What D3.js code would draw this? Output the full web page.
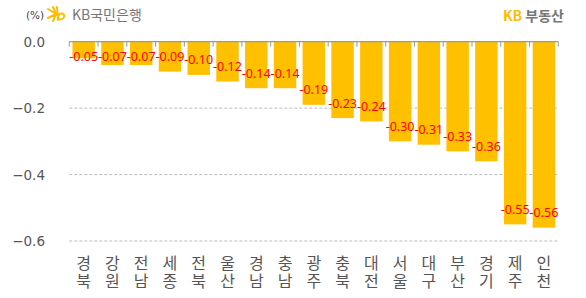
<!DOCTYPE html>
<html>
<head>
<meta charset="utf-8">
<script src="https://cdn.jsdelivr.net/npm/d3@7"></script>
<style>
  body { margin: 0; background: #fff; }
  svg { display: block; }
</style>
</head>
<body>
<svg id="chart" width="586" height="298"></svg>
<script>
// regions (top/bottom halves of the vertical label) and weekly change in %
var regions = ["경북","강원","전남","세종","전북","울산","경남","충남","광주","충북","대전","서울","대구","부산","경기","제주","인천"];
var values = [-0.05,-0.07,-0.07,-0.09,-0.10,-0.12,-0.14,-0.14,-0.19,-0.23,-0.24,-0.30,-0.31,-0.33,-0.36,-0.55,-0.56];
var yTicks = [0, -0.2, -0.4, -0.6];

var svg = d3.select("#chart");
var plotL = 69.3, plotR = 558.3, plotT = 41.7, plotB = 241;

var x = d3.scaleBand().domain(regions).range([plotL, plotR]).paddingInner(0.22).paddingOuter(0.11);
var y = d3.scaleLinear().domain([0, -0.6]).range([plotT, plotB]);

// dashed grid
svg.append("g").selectAll("line").data(yTicks.slice(1)).enter().append("line")
	.attr("x1", plotL).attr("x2", plotR)
	.attr("y1", function(d){ return y(d); }).attr("y2", function(d){ return y(d); })
	.attr("stroke", "#bbb").attr("stroke-dasharray", "3,2").attr("stroke-width", 1);

// y labels
svg.append("g").selectAll("text").data(yTicks).enter().append("text")
	.attr("x", 45).attr("y", function(d){ return y(d); })
	.attr("text-anchor", "end").attr("dominant-baseline", "central")
	.attr("font-family", "DejaVu Sans").attr("font-size", 13.5).attr("fill", "#555")
	.text(function(d){ return d == 0 ? "0.0" : "\u2212" + Math.abs(d).toFixed(1); });

// bars
svg.append("g").selectAll("rect").data(values).enter().append("rect")
	.attr("x", function(d,i){ return x(regions[i]); })
	.attr("width", x.bandwidth())
	.attr("y", y(0))
	.attr("height", function(d){ return y(d) - y(0); })
	.attr("fill", "#FFC000");

// zero axis with band boundary ticks
var bounds = d3.range(regions.length + 1).map(function(i){ return plotL + i * (plotR - plotL) / regions.length; });
svg.append("line").attr("x1", plotL).attr("x2", plotR).attr("y1", y(0)).attr("y2", y(0))
	.attr("stroke", "#999").attr("stroke-width", 1.3);
svg.append("g").selectAll("line").data(bounds).enter().append("line")
	.attr("x1", function(d){ return d; }).attr("x2", function(d){ return d; })
	.attr("y1", y(0)).attr("y2", y(0) + 5)
	.attr("stroke", "#999").attr("stroke-width", 1);

// value labels
svg.append("g").selectAll("text").data(values).enter().append("text")
	.attr("x", function(d,i){ return x(regions[i]) + x.bandwidth()/2; })
	.attr("y", function(d){ return Math.max(y(d) - 15, y(0) + 15); })
	.attr("text-anchor", "middle").attr("dominant-baseline", "central")
	.attr("font-family", "Noto Sans").attr("font-size", 12.5).attr("fill", "#ff0000")
	.text(function(d){ return "-" + Math.abs(d).toFixed(2); });

// category labels, written vertically (one char per row)
[0, 1].forEach(function(row){
	svg.append("g").selectAll("text").data(regions).enter().append("text")
		.attr("x", function(d){ return x(d) + x.bandwidth()/2; })
		.attr("y", 261.5 + row * 18.5)
		.attr("text-anchor", "middle").attr("dominant-baseline", "central")
		.attr("font-family", "Noto Sans CJK KR").attr("font-size", 16).attr("fill", "#555")
		.text(function(d){ return d[row]; });
});

// header
svg.append("text").attr("x", 26).attr("y", 19)
	.attr("font-family", "DejaVu Sans").attr("font-size", 10.5).attr("fill", "#444").text("(%)");

var logo = svg.append("g").attr("transform", "translate(56,14)")
	.attr("stroke", "#FFBC00").attr("stroke-width", 2).attr("stroke-linecap", "round").attr("fill", "none");
logo.append("path").attr("d", "M-8,-5 L0,0 M-3,-7 L0,0 M-8,4 L0,0 M-3,7 L0,0 M1,-7 L2,6");
logo.append("path").attr("d", "M2,2 C4,-2 9,-1 8,3 C7,6 3,6 2,4");

svg.append("text").attr("x", 72).attr("y", 20)
	.attr("font-family", "Noto Sans CJK KR").attr("font-size", 14).attr("fill", "#777")
	.text("KB국민은행");

var kb = svg.append("text").attr("x", 503).attr("y", 21)
	.attr("font-family", "Noto Sans CJK KR").attr("font-size", 14).attr("font-weight", "bold");
kb.append("tspan").attr("fill", "#FFBC00").text("KB ");
kb.append("tspan").attr("fill", "#777").text("부동산");
</script>
</body>
</html>
